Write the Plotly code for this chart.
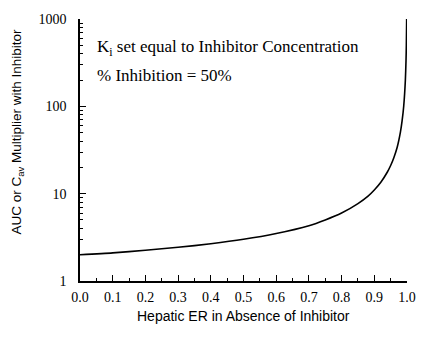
import plotly.graph_objects as go

# Hepatic extraction ratio (no inhibitor) and AUC / Cav multiplier with inhibitor
hepatic_er = [0.0, 0.1, 0.2, 0.3, 0.4, 0.5, 0.6, 0.7, 0.75, 0.8, 0.85, 0.88,
              0.9, 0.92, 0.94, 0.95, 0.96, 0.97, 0.98, 0.985, 0.99, 0.995,
              0.997, 0.998, 0.999]
auc_multiplier = [2.0, 2.1, 2.25, 2.43, 2.67, 3.0, 3.5, 4.3, 5.0, 6.0, 7.7, 9.3,
                  11.0, 13.5, 17.7, 21.0, 26.0, 34.0, 51.0, 68.0, 101.0, 200.0,
                  334.0, 500.0, 1000.0]

y_tickvals = [1, 10, 100, 1000]
y_ticktext = ["1", "10", "100", "1000"]

serif = "Liberation Serif"
sans = "Liberation Sans"

fig = go.Figure(
    go.Scatter(
        x=hepatic_er,
        y=auc_multiplier,
        mode="lines",
        line=dict(color="black", width=1.6, shape="spline", smoothing=0.6),
        hoverinfo="skip",
    )
)

axis_common = dict(
    showgrid=False,
    zeroline=False,
    showline=True,
    linecolor="black",
    linewidth=1.5,
    ticks="inside",
    tickcolor="black",
    tickwidth=1,
    ticklen=6,
    tickfont=dict(family=serif, size=14, color="black"),
)

fig.update_xaxes(
    range=[0, 1],
    tick0=0,
    dtick=0.1,
    tickformat=".1f",
    ticklabelstandoff=2,
    minor=dict(dtick=0.05, ticks="inside", ticklen=3, tickcolor="black", tickwidth=1),
    **axis_common,
)
fig.update_yaxes(
    type="log",
    range=[0, 3],
    tickvals=y_tickvals,
    ticktext=y_ticktext,
    ticklabelstandoff=9,
    minor=dict(dtick="D1", ticks="inside", ticklen=3, tickcolor="black", tickwidth=1),
    **axis_common,
)

fig.add_annotation(
    text="Hepatic ER in Absence of Inhibitor",
    xref="paper", yref="paper", x=0.5, y=-0.135,
    xanchor="center", yanchor="middle", showarrow=False,
    font=dict(family=sans, size=14, color="black"),
)
fig.add_annotation(
    text="AUC or C<sub>av</sub> Multiplier with Inhibitor",
    xref="paper", yref="paper", x=-0.19, y=0.57,
    xanchor="center", yanchor="middle", textangle=-90, showarrow=False,
    font=dict(family=sans, size=13.5, color="black"),
)
# Two-line note inside the plot area
fig.add_annotation(
    text="K<sub>i</sub> set equal to Inhibitor Concentration",
    xref="paper", yref="paper", x=0.045, y=0.94,
    xanchor="left", yanchor="top", align="left", showarrow=False,
    font=dict(family=serif, size=17, color="black"),
)
fig.add_annotation(
    text="% Inhibition = 50%",
    xref="paper", yref="paper", x=0.045, y=0.828,
    xanchor="left", yanchor="top", align="left", showarrow=False,
    font=dict(family=serif, size=17, color="black"),
)

fig.update_layout(
    width=442,
    height=341,
    margin=dict(l=80, r=35, t=13, b=60),
    paper_bgcolor="white",
    plot_bgcolor="white",
    showlegend=False,
)

fig.write_html("out.html")
